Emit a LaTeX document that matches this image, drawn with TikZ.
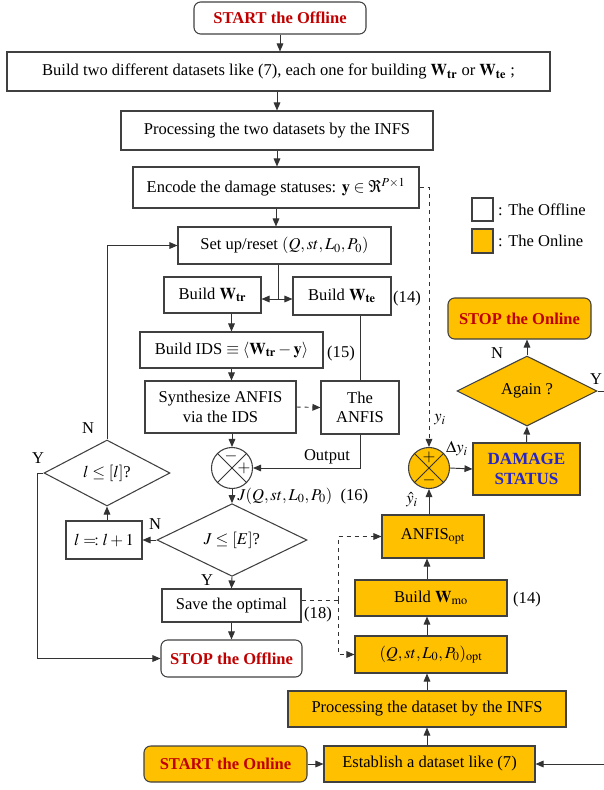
\documentclass[tikz,border=0pt]{standalone}
\usepackage{mathptmx}
\usepackage[no-math]{fontspec}
\setmainfont{Liberation Serif}
\usetikzlibrary{shapes.geometric,arrows.meta}
\newdimen\px \px=0.75pt
\definecolor{onl}{HTML}{FFC000}
\definecolor{stopred}{HTML}{C00000}
\definecolor{dmgblue}{HTML}{2626C8}

\begin{document}
\begin{tikzpicture}[x=0.75pt,y=-0.75pt,
  font=\fontsize{12.4}{14.5}\selectfont,
  box/.style={draw=black!75,line width=0.8pt,inner sep=0pt,align=center},
  online/.style={box,fill=onl},
  term/.style={box,rounded corners=5pt,text=stopred,font=\fontsize{12.4}{14.5}\selectfont\bfseries},
  dia/.style={box,diamond},
  sumc/.style={box,circle,minimum size=41\px},
  arr/.style={-{Triangle[length=6pt,width=5pt]}},
  ln/.style={draw=black!80,line width=0.7pt},
  lbl/.style={inner sep=1pt}]
\useasboundingbox (0,0) rectangle (604,790);

% offline part
\node[term,minimum width=172\px,minimum height=32\px] (startoff) at (280,18) {START the Offline};
\node[box,minimum width=543\px,minimum height=39\px] (build) at (278.5,71.5) {Build two different datasets like (7), each one for building $\mathbf{W}_{\mathbf{tr}}$ or $\mathbf{W}_{\mathbf{te}}$ ;};
\node[box,minimum width=312\px,minimum height=39\px] (proc) at (277,130.5) {Processing the two datasets by the INFS};
\node[box,minimum width=286\px,minimum height=41\px] (encode) at (276,187.5) {Encode the damage statuses: $\mathbf{y}\in\Re^{P\times 1}$};
\node[box,minimum width=213\px,minimum height=37\px] (setup) at (284.5,245.5) {Set up/reset $(Q, st, L_0, P_0)$};
\node[box,minimum width=97\px,minimum height=36\px] (wtr) at (212.5,295) {Build $\mathbf{W}_{\mathbf{tr}}$};
\node[box,minimum width=98\px,minimum height=38\px] (wte) at (342,296) {Build $\mathbf{W}_{\mathbf{te}}$};
\node[box,minimum width=183\px,minimum height=36\px] (ids) at (231.5,350) {Build IDS $\equiv\langle\mathbf{W}_{\mathbf{tr}}-\mathbf{y}\rangle$};
\node[box,minimum width=151\px,minimum height=52\px] (synth) at (220.5,407) {Synthesize ANFIS\\via the IDS};
\node[box,minimum width=78\px,minimum height=53\px] (anfis) at (360,407.5) {The\\ANFIS};
\node[sumc] (sumoff) at (232,468) {};
\node[dia,minimum width=150\px,minimum height=70\px] (jdia) at (232,540) {$J\le[E]$?};
\node[box,minimum width=76\px,minimum height=38\px] (lbox) at (104,540) {$l =\!: l+1$};
\node[dia,minimum width=126\px,minimum height=66\px] (ldia) at (107,473) {$l\le[l]$?};
\node[box,minimum width=139\px,minimum height=33\px] (save) at (231.5,605.5) {Save the optimal};
\node[term,minimum width=141\px,minimum height=37\px] (stopoff) at (231.5,658.5) {STOP the Offline};

% online part
\node[term,fill=onl,minimum width=163\px,minimum height=36\px] (starton) at (225.5,764) {START the Online};
\node[online,minimum width=211\px,minimum height=36\px] (estab) at (429.5,764) {Establish a dataset like (7)};
\node[online,minimum width=278\px,minimum height=36\px] (procon) at (427,709) {Processing the dataset by the INFS};
\node[online,minimum width=152\px,minimum height=37\px] (qopt) at (431,654.5) {$(Q, st, L_0, P_0)_{\mathrm{opt}}$};
\node[online,minimum width=152\px,minimum height=36\px] (wmo) at (431,598) {Build $\mathbf{W}_{\mathrm{mo}}$};
\node[online,minimum width=102\px,minimum height=43\px] (anfisopt) at (433,536.5) {ANFIS$_{\mathrm{opt}}$};
\node[sumc,fill=onl] (sumon) at (429,468) {};
\node[online,minimum width=107\px,minimum height=52\px,text=dmgblue,font=\fontsize{12.8}{15}\selectfont\bfseries] (damage) at (526.5,469) {DAMAGE\\STATUS};
\node[dia,fill=onl,minimum width=140\px,minimum height=70\px] (again) at (527,391) {Again ?};
\node[term,fill=onl,minimum width=143\px,minimum height=41\px] (stopon) at (519.5,318.5) {STOP the Online};

% legend
\node[box,minimum width=21\px,minimum height=23\px] (legoff) at (482.5,209.5) {};
\node[online,minimum width=21\px,minimum height=24\px] (legon) at (482.5,241) {};
\node[anchor=west] (legofft) at (legoff.east) {: The Offline};
\node[anchor=west] (legont) at (legon.east) {: The Online};

% crosses and signs
\draw[ln] (sumoff.45) -- (sumoff.225) (sumoff.135) -- (sumoff.315);
\draw[ln] (sumon.45) -- (sumon.225) (sumon.135) -- (sumon.315);
\node[lbl] (moff) at (231,456) {$-$};
\node[lbl] (poff) at (244,468) {$+$};
\node[lbl] (pon) at (429,457) {$+$};
\node[lbl] (mon) at (429,480) {$-$};

% helper points
\coordinate (split) at (278,299);
\coordinate (yturn) at (37,473);
\coordinate (dj) at (338,600);
\coordinate (redge) at (604,764);
\coordinate (redge2) at (604,391);

% offline connectors
\draw[ln,arr] (startoff.south) -- (startoff.south |- build.north);
\draw[ln,arr] (build.south -| proc.north) -- (proc.north);
\draw[ln,arr] (proc.south) -- (proc.south |- encode.north);
\draw[ln,arr] (encode.south) -- (encode.south |- setup.north);
\draw[ln] (setup.south -| split) -- (split);
\draw[ln,arr] (split) -- (split -| wtr.east);
\draw[ln,arr] (split) -- (split -| wte.west);
\draw[ln,arr] (wtr.south -| ids.north) -- (ids.north);
\draw[ln,arr] (ids.south) -- (ids.south |- synth.north);
\draw[ln,dashed,arr] (synth.east) -- (anfis.west);
\draw[ln] (wte.south -| anfis.north) -- (anfis.north);
\draw[ln,arr] (synth.south -| sumoff.north) -- (sumoff.north);
\draw[ln,arr] (anfis.south) |- (sumoff.east);
\draw[ln,arr] (sumoff.south) -- (jdia.north);
\draw[ln,arr] (jdia.west) -- (lbox.east);
\draw[ln,arr] (ldia.south |- lbox.north) -- (ldia.south);
\draw[ln,arr] (ldia.north) |- (setup.west);
\draw[ln,arr] (ldia.west) -- (yturn) |- (stopoff.west);
\draw[ln,arr] (jdia.south) -- (save.north);
\draw[ln,arr] (save.south) -- (stopoff.north);

% online connectors
\draw[ln,dashed,arr] (encode.east) -| (sumon.north);
\draw[ln,dashed] (save.east |- dj) -- (dj);
\draw[ln,dashed,arr] (dj) |- (anfisopt.west);
\draw[ln,dashed,arr] (dj) |- (qopt.west);
\draw[ln,arr] (starton.east) -- (estab.west);
\draw[ln,arr] (redge) -- (estab.east);
\draw[ln,arr] (estab.north -| procon.north) -- (procon.south);
\draw[ln,arr] (procon.north) -- (procon.north |- qopt.south);
\draw[ln,arr] (qopt.north -| procon.north) -- (procon.north |- wmo.south);
\draw[ln,arr] (wmo.north -| procon.north) -- (procon.north |- anfisopt.south);
\draw[ln,arr] (anfisopt.north -| sumon.south) -- (sumon.south);
\draw[ln,arr] (sumon.east) -- (damage.west);
\draw[ln,arr] (damage.north) -- (again.south);
\draw[ln,arr] (again.north) -- (again.north |- stopon.south);
\draw[ln] (again.east) -- (redge2);

% labels
\node[lbl] (tag14a) at (407,299) {(14)};
\node[lbl] (tag15) at (341,354) {(15)};
\node[lbl] (tag14b) at (527,600) {(14)};
\node[lbl] (tag18) at (318,615) {(18)};
\node[lbl] (outlbl) at (327,457) {Output};
\node[lbl,anchor=west] (jlbl) at (236,496) {$J(Q,st,L_0,P_0)$\ \ (16)};
\node[lbl] (nl) at (88,428) {N};
\node[lbl] (yl) at (38,458) {Y};
\node[lbl] (nj) at (155,524) {N};
\node[lbl] (yj) at (207,580) {Y};
\node[lbl] (na) at (497,353) {N};
\node[lbl] (ya) at (596,379) {Y};
\node[lbl] (yi) at (440,420) {$y_i$};
\node[lbl] (yhat) at (412,500) {$\hat{y}_i$};
\node[lbl] (dyi) at (457,449) {$\Delta y_i$};
\end{tikzpicture}
\end{document}
